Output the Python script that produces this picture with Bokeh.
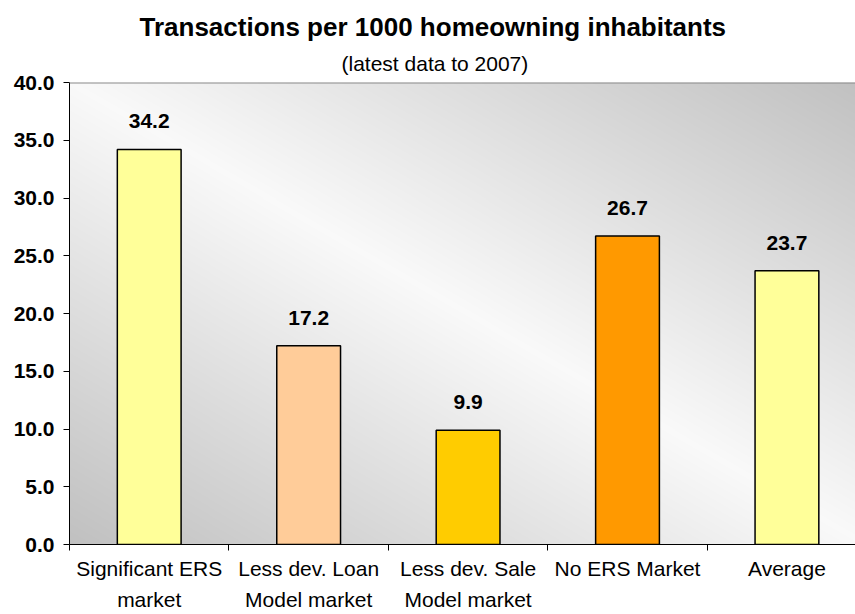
import numpy as np
from bokeh.plotting import figure
from bokeh.models import (Range1d, FixedTicker, Title, Span, ColumnDataSource,
                          LabelSet, NumeralTickFormatter)
from bokeh.core.properties import value
from bokeh.embed import file_html
from bokeh.resources import INLINE

# ---- data ----
categories = ["Significant ERS\nmarket", "Less dev. Loan\nModel market",
              "Less dev. Sale\nModel market", "No ERS Market", "Average"]
values = [34.2, 17.2, 9.9, 26.7, 23.7]
bar_colors = ["#FFFF99", "#FFCC99", "#FFCC00", "#FF9900", "#FFFF99"]
y_ticks = [0, 5, 10, 15, 20, 25, 30, 35, 40]
title_text = "Transactions per 1000 homeowning inhabitants"
subtitle_text = "(latest data to 2007)"

n = len(categories)
xs = list(range(n))
y_max = y_ticks[-1]
FONT = "Liberation Sans"

p = figure(width=855, height=614,
           x_range=Range1d(-0.5, 4.43), y_range=Range1d(0, y_max),
           output_backend="svg", toolbar_location=None,
           min_border_left=69, min_border_right=0,
           min_border_top=82, min_border_bottom=70)
p.outline_line_color = None
p.border_fill_color = "white"

# ---- gradient background of plot area ----
nx, ny = 800, 460
u = np.linspace(0, 1, nx)[None, :]
vdown = np.linspace(1, 0, ny)[:, None]
d = np.abs(u - vdown)
g = (249 - (249 - 192) * d).round().astype(np.uint8)
img = np.empty((ny, nx), dtype=np.uint32)
view = img.view(dtype=np.uint8).reshape((ny, nx, 4))
view[..., 0] = g
view[..., 1] = g
view[..., 2] = g
view[..., 3] = 255
p.image_rgba(image=[img], x=-0.5, y=0, dw=n, dh=y_max)

# ---- grid ----
p.xgrid.visible = False
p.ygrid.ticker = FixedTicker(ticks=y_ticks)
p.ygrid.grid_line_color = "#2b2b2b"
p.ygrid.grid_line_width = 1
p.add_layout(Span(location=y_max, dimension="width", line_color="#8a8a8a", line_width=2))

# ---- bars ----
src = ColumnDataSource(dict(x=xs, top=values, color=bar_colors,
                            label=[f"{v:.1f}" for v in values]))
p.vbar(x="x", top="top", bottom=0, width=0.4, fill_color="color",
       line_color="black", line_width=1.5, source=src)

labels = LabelSet(x="x", y="top", text="label", source=src, y_offset=21,
                  text_align="center", text_baseline="alphabetic",
                  text_font=value(FONT), text_font_size="21px",
                  text_font_style="bold", text_color="black")
p.add_layout(labels)

# ---- axes ----
ya = p.yaxis[0]
ya.ticker = FixedTicker(ticks=y_ticks)
ya.formatter = NumeralTickFormatter(format="0.0")
ya.major_label_text_font = FONT
ya.major_label_text_font_size = "21px"
ya.major_label_text_font_style = "bold"
ya.major_label_text_color = "black"
ya.major_tick_out = 6
ya.major_tick_in = 0
ya.minor_tick_line_color = None
ya.axis_line_color = "black"
ya.major_tick_line_color = "black"
ya.major_label_standoff = 9

xa = p.xaxis[0]
xa.ticker = FixedTicker(ticks=xs, minor_ticks=[i - 0.5 for i in range(n + 1)])
xa.major_label_overrides = {i: c for i, c in enumerate(categories)}
xa.major_tick_line_color = None
xa.major_tick_out = 6
xa.major_tick_in = 0
xa.minor_tick_line_color = "black"
xa.minor_tick_out = 6
xa.minor_tick_in = 0
xa.axis_line_color = "black"
xa.major_label_text_font = FONT
xa.major_label_text_font_size = "21px"
xa.major_label_text_color = "black"
xa.major_label_text_line_height = 1.35
xa.major_label_standoff = 6

# ---- titles ----
p.add_layout(Title(text=subtitle_text, align="left", offset=272,
                   text_font=FONT, text_font_size="21px", text_font_style="normal",
                   text_color="black", standoff=15), "above")
p.add_layout(Title(text=title_text, align="left", offset=70,
                   text_font=FONT, text_font_size="26px", text_font_style="bold",
                   text_color="black", standoff=2), "above")

open("out.html", "w").write(file_html(p, INLINE))
